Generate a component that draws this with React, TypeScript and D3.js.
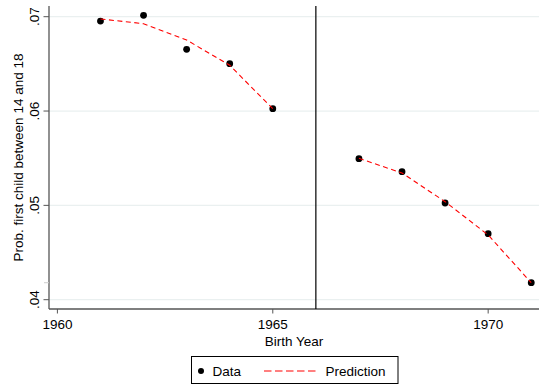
import React from "react";
import * as d3 from "d3";

const years = [1961, 1962, 1963, 1964, 1965, 1967, 1968, 1969, 1970, 1971];
const dataValues = [0.06954, 0.07015, 0.06654, 0.06502, 0.06025, 0.05495, 0.05357, 0.05025, 0.0470, 0.0418];
const predValues = [0.06976, 0.06926, 0.06753, 0.06485, 0.06025, 0.05499, 0.05343, 0.05039, 0.04686, 0.0418];
const xTicks = [1960, 1965, 1970];
const yTicks = [0.04, 0.05, 0.06, 0.07];
const yTickLabels = [".04", ".05", ".06", ".07"];
const cutoffYear = 1966;

const W = 539;
const H = 384;
const left = 49;
const right = 539;
const top = 6;
const bottom = 309;
const FONT = "'Liberation Sans', Arial, Helvetica, sans-serif";
const FS = 13.5;

export default function App() {
  const x = d3.scaleLinear().domain([1959.805, 1971.18]).range([left, right]);
  const y = d3.scaleLinear().domain([0.04, 0.07]).range([299.7, 16.7]);

  const pre = years.map((yr, i) => ({ yr, v: predValues[i] })).filter((d) => d.yr < cutoffYear);
  const post = years.map((yr, i) => ({ yr, v: predValues[i] })).filter((d) => d.yr > cutoffYear);
  const line = d3
    .line<{ yr: number; v: number }>()
    .x((d) => x(d.yr))
    .y((d) => y(d.v));

  const cx = (left + right) / 2;

  return (
    <svg
      width={W}
      height={H}
      style={{ position: "absolute", left: 0, top: 0, background: "#fff" }}
      fontFamily={FONT}
    >
      <rect x={0} y={0} width={W} height={H} fill="#fff" />
      {/* grid lines */}
      {yTicks.map((t) => (
        <line key={"g" + t} x1={left} x2={right} y1={y(t)} y2={y(t)} stroke="#eaf0f0" strokeWidth={1.2} />
      ))}
      {/* y axis */}
      <line x1={left} x2={left} y1={top} y2={bottom} stroke="#555" strokeWidth={1.3} />
      {yTicks.map((t, i) => (
        <g key={"yt" + t}>
          <line x1={left - 5.5} x2={left} y1={y(t)} y2={y(t)} stroke="#555" strokeWidth={1} />
          <text
            transform={`translate(38.5,${y(t)}) rotate(-90)`}
            textAnchor="middle"
            fontSize={FS}
            fill="#000"
          >
            {yTickLabels[i]}
          </text>
        </g>
      ))}
      <line x1={left - 5} x2={left} y1={y(0.0418)} y2={y(0.0418)} stroke="#ccc" strokeWidth={1} />
      <text
        transform={`translate(23,${(top + bottom) / 2}) rotate(-90)`}
        textAnchor="middle"
        fontSize={FS}
        fill="#000"
      >
        Prob. first child between 14 and 18
      </text>
      {/* x axis */}
      <line x1={left} x2={right} y1={bottom} y2={bottom} stroke="#555" strokeWidth={1.3} />
      {xTicks.map((t) => (
        <g key={"xt" + t}>
          <line x1={x(t)} x2={x(t)} y1={bottom} y2={bottom + 4.5} stroke="#555" strokeWidth={1} />
          <text x={x(t)} y={329} textAnchor="middle" fontSize={FS} fill="#000">
            {t}
          </text>
        </g>
      ))}
      <text x={cx} y={345.5} textAnchor="middle" fontSize={FS} fill="#000">
        Birth Year
      </text>
      {/* cutoff */}
      <line x1={x(cutoffYear)} x2={x(cutoffYear)} y1={top} y2={bottom} stroke="#000" strokeWidth={1.2} />
      {/* data points */}
      {years.map((yr, i) => (
        <circle key={"p" + yr} cx={x(yr)} cy={y(dataValues[i])} r={3.4} fill="#000" />
      ))}
      {/* prediction */}
      {[pre, post].map((seg, i) => (
        <path
          key={"l" + i}
          d={line(seg) || ""}
          fill="none"
          stroke="#ff0000"
          strokeWidth={1.1}
          strokeDasharray="5 3.5"
        />
      ))}
      {/* legend */}
      <rect x={191.5} y={356.5} width={206.5} height={27} fill="#fff" stroke="#000" strokeWidth={1} />
      <circle cx={201} cy={371} r={3} fill="#000" />
      <text x={212.5} y={375.5} fontSize={FS} fill="#000">
        Data
      </text>
      <line x1={264} x2={316} y1={371} y2={371} stroke="#ff0000" strokeWidth={1.1} strokeDasharray="7.5 3.5" />
      <text x={325.5} y={375.5} fontSize={FS} fill="#000">
        Prediction
      </text>
    </svg>
  );
}
